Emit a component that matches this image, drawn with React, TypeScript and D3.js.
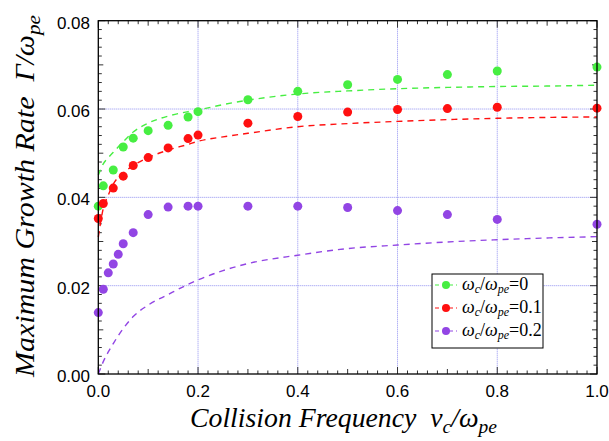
import React from 'react';
import * as d3 from 'd3';

// collision frequency values of the simulation points
const nuA = [0, 0.01, 0.03, 0.05, 0.07, 0.1, 0.14, 0.18, 0.2, 0.3, 0.4, 0.5, 0.6, 0.7, 0.8, 1.0];
const nuB = [0, 0.01, 0.02, 0.03, 0.04, 0.05, 0.07, 0.1, 0.14, 0.18, 0.2, 0.3, 0.4, 0.5, 0.6, 0.7, 0.8, 1.0];

const gamma0 = [0.038, 0.0426, 0.0462, 0.0514, 0.0534, 0.0551, 0.0563, 0.0582, 0.0594, 0.0621, 0.064, 0.0655, 0.0667, 0.0678, 0.0686, 0.0695];
const gamma1 = [0.0352, 0.0386, 0.0421, 0.0448, 0.0472, 0.049, 0.0512, 0.0533, 0.0541, 0.0568, 0.0583, 0.0593, 0.0599, 0.0601, 0.0604, 0.0602];
const gamma2 = [0.0139, 0.0192, 0.0229, 0.0249, 0.0271, 0.0295, 0.032, 0.0361, 0.0378, 0.038, 0.038, 0.038, 0.038, 0.0377, 0.037, 0.0361, 0.035, 0.0339];

// theory curves (dashed)
const nuCurve = [0, 0.01, 0.02, 0.03, 0.05, 0.07, 0.1, 0.14, 0.18, 0.2, 0.25, 0.3, 0.4, 0.5, 0.6, 0.7, 0.8, 0.9, 1.0];
const curve0 = [0.045, 0.0476, 0.049, 0.0502, 0.0526, 0.0548, 0.0568, 0.0584, 0.0594, 0.0598, 0.061, 0.062, 0.0634, 0.0641, 0.0646, 0.0649, 0.0651, 0.0652, 0.0654];
const curve1 = [0.031, 0.0375, 0.0405, 0.043, 0.0455, 0.0472, 0.049, 0.0507, 0.052, 0.0527, 0.0537, 0.0545, 0.056, 0.0567, 0.0572, 0.0576, 0.0579, 0.0581, 0.0582];
const curve2 = [0, 0.0028, 0.005, 0.0069, 0.0103, 0.013, 0.0156, 0.018, 0.0203, 0.0213, 0.0234, 0.025, 0.0269, 0.0284, 0.0292, 0.0299, 0.0304, 0.0308, 0.0311];

const legendValues = ['0', '0.1', '0.2'];
const colors = ['#47ee42', '#ff1010', '#9245e4'];
const xTickLabels = ['0.0', '0.2', '0.4', '0.6', '0.8', '1.0'];
const yTickLabels = ['0.00', '0.02', '0.04', '0.06', '0.08'];

const width = 609;
const height = 441;
const left = 98.3;
const right = 597;
const top = 20.7;
const bottom = 374;

export default function App() {
  const x = d3.scaleLinear().domain([0, 1]).range([left, right]);
  const y = d3.scaleLinear().domain([0, 0.08]).range([bottom, top]);

  const series = [
    { nu: nuA, g: gamma0, c: curve0 },
    { nu: nuA, g: gamma1, c: curve1 },
    { nu: nuB, g: gamma2, c: curve2 },
  ];

  const line = d3
    .line<number>()
    .x((d, i) => x(nuCurve[i]))
    .y((d) => y(d))
    .curve(d3.curveMonotoneX);

  const xMinor = d3.range(0, 51).map((i) => i * 0.02);
  const yMinor = d3.range(0, 41).map((i) => i * 0.002);
  const tickLen = (k: number, major: number, mid: number) =>
    k % major === 0 ? 7 : k % mid === 0 ? 5 : 3.5;

  const gridColor = '#8f8ff0';
  const serif = 'Liberation Serif';
  const sans = 'Liberation Sans';

  return (
    <svg width={width} height={height} style={{ position: 'absolute', left: 0, top: 0, background: '#fff' }}>
      {/* grid */}
      {[0.2, 0.4, 0.6, 0.8].map((v) => (
        <line key={'gx' + v} x1={x(v)} x2={x(v)} y1={top} y2={bottom} stroke={gridColor} strokeWidth={1} strokeDasharray="1,1" />
      ))}
      {[0.02, 0.04, 0.06].map((v) => (
        <line key={'gy' + v} x1={left} x2={right} y1={y(v)} y2={y(v)} stroke={gridColor} strokeWidth={1} strokeDasharray="1,1" />
      ))}

      {/* ticks */}
      {xMinor.map((v, k) => {
        const l = tickLen(k, 10, 5);
        return (
          <g key={'tx' + k} stroke="#333" strokeWidth={1}>
            <line x1={x(v)} x2={x(v)} y1={bottom} y2={bottom - l} />
            <line x1={x(v)} x2={x(v)} y1={top} y2={top + l} />
          </g>
        );
      })}
      {yMinor.map((v, k) => {
        const l = tickLen(k, 10, 5);
        return (
          <g key={'ty' + k} stroke="#333" strokeWidth={1}>
            <line x1={left} x2={left + l} y1={y(v)} y2={y(v)} />
            <line x1={right} x2={right - l} y1={y(v)} y2={y(v)} />
          </g>
        );
      })}

      {/* dashed curves */}
      {series.map((s, i) => (
        <path key={'c' + i} d={line(s.c) || ''} fill="none" stroke={colors[i]} strokeWidth={1.4} strokeDasharray="6,5" />
      ))}

      {/* points */}
      {series.map((s, i) =>
        s.g.map((g, j) => <circle key={'p' + i + '-' + j} cx={x(s.nu[j])} cy={y(g)} r={4.5} fill={colors[i]} />)
      )}

      {/* frame */}
      <rect x={left} y={top} width={right - left} height={bottom - top} fill="none" stroke="#000" strokeWidth={1.3} />

      {/* tick labels */}
      {xTickLabels.map((t) => (
        <text key={'xl' + t} x={x(+t)} y={397} textAnchor="middle" fontFamily={sans} fontSize={17}>
          {t}
        </text>
      ))}
      {yTickLabels.map((t) => (
        <text key={'yl' + t} x={90} y={y(+t) + 8} textAnchor="end" fontFamily={sans} fontSize={17}>
          {t}
        </text>
      ))}

      {/* axis titles */}
      <text x={190} y={427} textLength={307} lengthAdjust="spacingAndGlyphs" fontFamily={serif} fontStyle="italic" fontSize={27}>
        Collision Frequency{'\u2002'}ν
        <tspan fontSize={19} dy={6}>c</tspan>
        <tspan dy={-6}>/ω</tspan>
        <tspan fontSize={19} dy={6}>pe</tspan>
      </text>
      <text transform="translate(34,377) rotate(-90)" textLength={362} lengthAdjust="spacingAndGlyphs" fontFamily={serif} fontStyle="italic" fontSize={27}>
        Maximum Growth Rate{'\u2002'}Γ/ω
        <tspan fontSize={19} dy={6}>pe</tspan>
      </text>

      {/* legend */}
      <rect x={432} y={274} width={111} height={74} fill="#fff" stroke="#000" strokeWidth={1} />
      {legendValues.map((v, i) => {
        const ly = 285 + i * 23;
        return (
          <g key={'lg' + i}>
            <line x1={435} x2={457} y1={ly} y2={ly} stroke={colors[i]} strokeWidth={1.2} strokeDasharray="4,3" />
            <circle cx={446} cy={ly} r={4} fill={colors[i]} />
            <text x={462} y={ly + 5} fontFamily={serif} fontSize={18}>
              <tspan fontStyle="italic">ω</tspan>
              <tspan fontStyle="italic" fontSize={12} dy={3}>c</tspan>
              <tspan dy={-3}>/</tspan>
              <tspan fontStyle="italic">ω</tspan>
              <tspan fontStyle="italic" fontSize={12} dy={3}>pe</tspan>
              <tspan dy={-3}>={v}</tspan>
            </text>
          </g>
        );
      })}
    </svg>
  );
}
